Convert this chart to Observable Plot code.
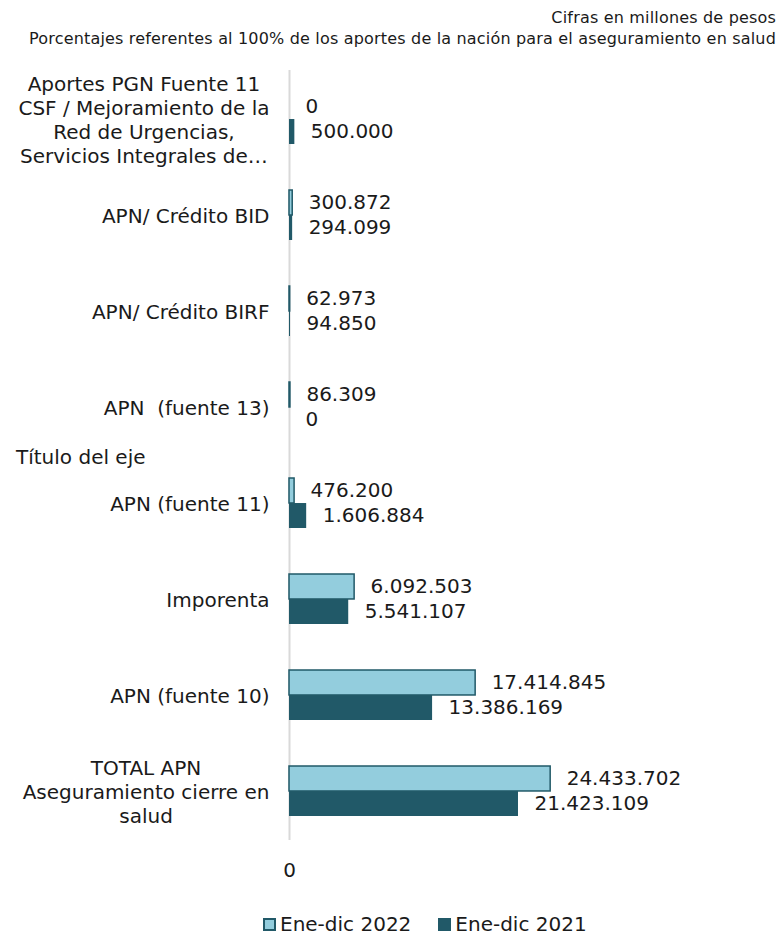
<!DOCTYPE html>
<html>
<head>
<meta charset="utf-8">
<script src="https://cdn.jsdelivr.net/npm/d3@7"></script>
<script src="https://cdn.jsdelivr.net/npm/@observablehq/plot@0.6"></script>
<style>
  body { margin: 0; background: #fff; font-family: "DejaVu Sans", Verdana, sans-serif; color: #1a1a1a; }
  #wrap { position: relative; width: 780px; height: 937px; overflow: hidden; }
  #header { position: absolute; right: 4px; top: 7px; text-align: right; font-size: 16px; line-height: 21px; letter-spacing: 0.18px; }
  #chart { position: absolute; left: 0; top: 52px; }
  #axisTitle { position: absolute; left: 16px; top: 445px; font-size: 20px; }
  #legend { position: absolute; left: 263px; top: 912px; font-size: 20px; display: flex; align-items: center; }
  .sw { width: 13px; height: 13px; display: inline-block; margin-right: 4px; box-sizing: border-box; }
</style>
</head>
<body>
<div id="wrap">
  <div id="header"></div>
  <div id="chart"></div>
  <div id="axisTitle"></div>
  <div id="legend"></div>
</div>
<script>
const headerLines = [
  "Cifras en millones de pesos",
  "Porcentajes referentes al 100% de los aportes de la nación para el aseguramiento en salud"
];
const axisTitle = "Título del eje";
const categories = [
  "Aportes PGN Fuente 11\nCSF / Mejoramiento de la\nRed de Urgencias,\nServicios Integrales de…",
  "APN/ Crédito BID",
  "APN/ Crédito BIRF",
  "APN  (fuente 13)",
  "APN (fuente 11)",
  "Imporenta",
  "APN (fuente 10)",
  "TOTAL APN\nAseguramiento cierre en\nsalud"
];
const seriesNames = ["Ene-dic 2022", "Ene-dic 2021"];
const values2022 = [0, 300872, 62973, 86309, 476200, 6092503, 17414845, 24433702];
const values2021 = [500000, 294099, 94850, 0, 1606884, 5541107, 13386169, 21423109];
const xTicks = [0];

const lightColor = "#93CDDD";
const darkColor = "#215968";

document.getElementById("header").innerHTML = headerLines.map(l => `<div>${l}</div>`).join("");
document.getElementById("axisTitle").textContent = axisTitle;
document.getElementById("legend").innerHTML =
  `<span class="sw" style="background:${lightColor};border:2px solid ${darkColor}"></span><span style="margin-right:27px">${seriesNames[0]}</span>` +
  `<span class="sw" style="background:${darkColor}"></span><span>${seriesNames[1]}</span>`;

const locale = d3.formatLocale({decimal: ",", thousands: ".", grouping: [3], currency: ["$", ""]});
const fmt = locale.format(",d");

const rows = categories.map((c, i) => ({cat: c, v22: values2022[i], v21: values2021[i]}));

// measure label widths for centered multi-line labels
const ctx = document.createElement("canvas").getContext("2d");
ctx.font = "20px 'DejaVu Sans'";
const gap = 20;
const labelMarks = categories.map(c => {
  const w = d3.max(c.split("\n"), l => ctx.measureText(l).width);
  return Plot.text([c], {
    x: () => 0, y: d => d, text: d => d,
    textAnchor: "middle", lineAnchor: "middle", lineHeight: 1.2,
    dx: -(gap + w / 2), fontSize: 20, fill: "#1a1a1a"
  });
});

const height = 833, marginTop = 18, marginBottom = 45;
const bw = (height - marginTop - marginBottom) / categories.length * 0.52;

const chart = Plot.plot({
  width: 780,
  height,
  marginLeft: 289,
  marginRight: 10,
  marginTop,
  marginBottom,
  style: {fontFamily: "'DejaVu Sans', Verdana, sans-serif", fontSize: "20px", color: "#1a1a1a", background: "#fff"},
  x: {domain: [0, 45000000]},
  y: {domain: categories, paddingInner: 0.48, paddingOuter: 0.24, axis: null},
  marks: [
    Plot.ruleX([0], {stroke: "#d9d9d9", strokeWidth: 2}),
    Plot.barX(rows, {x: "v22", y: "cat", fill: lightColor, stroke: darkColor, strokeWidth: 1.5, insetBottom: bw / 2}),
    Plot.barX(rows, {x: "v21", y: "cat", fill: darkColor, insetTop: bw / 2}),
    Plot.text(rows, {x: "v22", y: "cat", text: d => fmt(d.v22), textAnchor: "start", dx: 16, dy: -bw / 4, fontSize: 20, fill: "#1a1a1a"}),
    Plot.text(rows, {x: "v21", y: "cat", text: d => fmt(d.v21), textAnchor: "start", dx: 16, dy: bw / 4, fontSize: 20, fill: "#1a1a1a"}),
    ...labelMarks,
    Plot.axisX({ticks: xTicks, tickSize: 0, tickPadding: 22, tickFormat: d => fmt(d), fontSize: 20, label: null})
  ]
});
document.getElementById("chart").appendChild(chart);
</script>
</body>
</html>
